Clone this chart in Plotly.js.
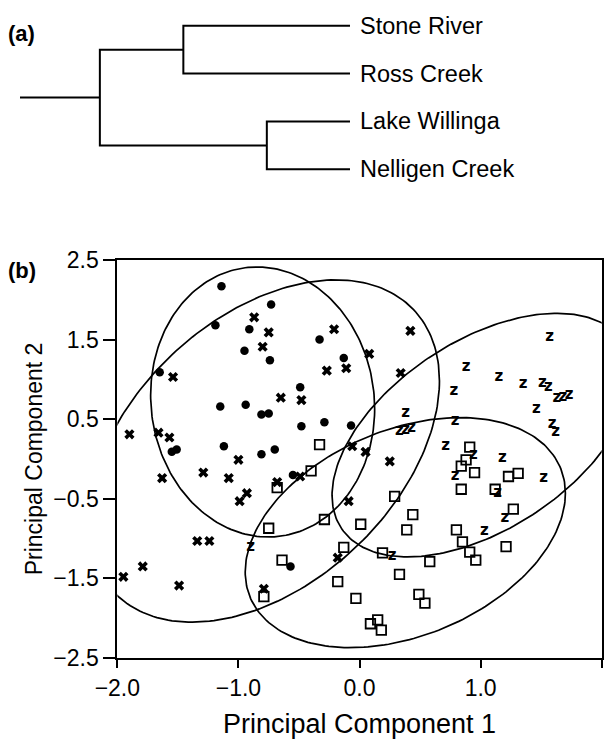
<!DOCTYPE html>
<html><head><meta charset="utf-8">
<script src="https://cdn.plot.ly/plotly-3.0.1.min.js"></script>
<style>body{margin:0;background:#fff}</style>
</head><body><div id="chart" style="width:613px;height:743px"></div>
<script>
// ---- (a) dendrogram ----
const leafNames = ['Stone River','Ross Creek','Lake Willinga','Nelligen Creek'];
const leafPos = [1,2,3,4];
const mergeLeft = [0,2];          // first leaf of each pair
const mergeRight = [1,3];         // second leaf of each pair
const mergeHeight = [0.505,0.252];// linkage distance of each pair
const rootHeight = 0.758;
const stemEnd = 1.0;

// ---- (b) PCA scores ----
const dotsX = [-1.14,-0.73,-1.19,-0.91,-0.95,-0.74,-0.33,-0.13,-1.65,-0.49,-1.15,-0.94,-0.81,-0.75,-0.48,-0.29,-0.07,-1.12,-0.70,-1.55,-1.51,-0.81,-0.55,-0.57];
const dotsY = [2.17,1.94,1.68,1.63,1.36,1.24,1.50,1.27,1.09,0.90,0.66,0.68,0.56,0.57,0.41,0.46,0.42,0.16,0.12,0.09,0.12,0.06,-0.20,-1.35];

const crossX = [-0.87,-0.75,-0.80,-0.21,-0.27,-0.11,-1.54,-0.65,-0.48,-1.90,-1.66,-1.57,-0.06,0.42,0.08,0.34,0.05,-1.00,-1.29,-1.63,-1.08,-0.68,-0.49,-0.93,-0.99,0.25,-0.09,-1.34,-1.24,-1.79,-1.95,-1.49,-0.18,-0.79];
const crossY = [1.78,1.59,1.41,1.63,1.11,1.14,1.03,0.77,0.74,0.31,0.33,0.27,0.16,1.61,1.32,1.08,0.09,-0.01,-0.17,-0.24,-0.24,-0.29,-0.22,-0.43,-0.53,-0.03,-0.53,-1.03,-1.03,-1.35,-1.48,-1.59,-1.24,-1.63];

const squareX = [-0.33,-0.40,-0.68,-0.29,-0.75,-0.13,-0.64,-0.18,-0.79,-0.03,0.91,0.88,0.84,0.95,1.23,1.31,0.84,1.12,1.27,0.29,0.44,0.01,0.39,0.80,0.85,0.91,0.96,1.21,0.19,0.58,0.33,0.49,0.54,0.15,0.09,0.18];
const squareY = [0.18,-0.15,-0.36,-0.76,-0.87,-1.11,-1.27,-1.54,-1.73,-1.75,0.15,-0.01,-0.09,-0.17,-0.22,-0.18,-0.38,-0.38,-0.63,-0.47,-0.70,-0.82,-0.89,-0.89,-1.04,-1.17,-1.27,-1.10,-1.18,-1.29,-1.45,-1.70,-1.81,-2.02,-2.07,-2.15];

const zX = [1.57,0.88,1.15,1.35,1.51,1.56,1.63,1.68,1.73,0.78,1.46,1.59,1.62,0.79,0.71,0.94,1.18,0.38,0.33,0.43,0.38,0.79,1.14,1.52,1.20,1.03,0.27,-0.90];
const zY = [1.53,1.15,1.03,0.94,0.95,0.90,0.76,0.78,0.80,0.85,0.62,0.44,0.33,0.47,0.16,0.05,0.01,0.58,0.35,0.39,0.36,-0.22,-0.43,-0.24,-0.74,-0.91,-1.22,-1.11];

// confidence ellipses: centre, half-extents, correlation
const ellCx  = [-0.80, -0.79, 1.015, 0.378];
const ellCy  = [0.716, 0.10, 0.30, -0.925];
const ellRx  = [0.925, 1.45, 1.242, 1.322];
const ellRy  = [1.696, 2.15, 1.53, 1.445];
const ellRho = [-0.05, 0.41, 0.495, 0.342];

const xTicks = [-2,-1,0,1,2];
const yTicks = [-2.5,-1.5,-0.5,0.5,1.5,2.5];

const FONT = '"Liberation Sans", Arial, Helvetica, sans-serif';
const traces = [];

// dendrogram segments
const dx = [], dy = [];
const mids = [];
for (let k = 0; k < mergeLeft.length; k++) {
  const a = leafPos[mergeLeft[k]], b = leafPos[mergeRight[k]], h = mergeHeight[k];
  dx.push(0, h, h, 0, null);
  dy.push(a, a, b, b, null);
  mids.push([(a + b) / 2, h]);
}
dx.push(mids[0][1], rootHeight, rootHeight, mids[1][1], null);
dy.push(mids[0][0], mids[0][0], mids[1][0], mids[1][0], null);
const rootMid = (mids[0][0] + mids[1][0]) / 2;
dx.push(rootHeight, stemEnd);
dy.push(rootMid, rootMid);
traces.push({type:'scatter', mode:'lines', x:dx, y:dy, xaxis:'x2', yaxis:'y2',
  line:{color:'#000', width:2}, hoverinfo:'skip'});

// ellipses
for (let e = 0; e < ellCx.length; e++) {
  const ex = [], ey = [];
  const s = Math.sqrt(1 - ellRho[e] * ellRho[e]);
  for (let i = 0; i <= 240; i++) {
    const t = 2 * Math.PI * i / 240;
    ex.push(ellCx[e] + ellRx[e] * Math.cos(t));
    ey.push(ellCy[e] + ellRy[e] * (ellRho[e] * Math.cos(t) + s * Math.sin(t)));
  }
  traces.push({type:'scatter', mode:'lines', x:ex, y:ey, line:{color:'#000', width:1.7}, hoverinfo:'skip'});
}

traces.push({type:'scatter', mode:'markers', x:dotsX, y:dotsY,
  marker:{symbol:'circle', size:8.5, color:'#000'}});
traces.push({type:'scatter', mode:'markers', x:crossX, y:crossY,
  marker:{symbol:'x', size:9, color:'#000', line:{width:0}}});
traces.push({type:'scatter', mode:'markers', x:squareX, y:squareY,
  marker:{symbol:'square-open', size:9.5, color:'#000', line:{width:1.8, color:'#000'}}});
traces.push({type:'scatter', mode:'text', x:zX, y:zY, text:zX.map(() => '<b>z</b>'),
  textposition:'middle center', textfont:{family:'"DejaVu Sans", sans-serif', size:15, color:'#000'}});

const annotations = leafNames.map((n, i) => ({
  xref:'x2', yref:'y2', x:-0.0242, y:leafPos[i], text:n, showarrow:false,
  xanchor:'left', yanchor:'middle', font:{family:FONT, size:23.5, color:'#000'}
}));
annotations.push({xref:'paper', yref:'paper', x:6/613, y:1-34/743, text:'<b>(a)</b>', showarrow:false,
  xanchor:'left', yanchor:'middle', font:{family:FONT, size:22, color:'#000'}});
annotations.push({xref:'paper', yref:'paper', x:6/613, y:1-270/743, text:'<b>(b)</b>', showarrow:false,
  xanchor:'left', yanchor:'middle', font:{family:FONT, size:22, color:'#000'}});

const axisCommon = {showgrid:false, zeroline:false, showline:true, linewidth:2, linecolor:'#000',
  mirror:true, ticks:'outside', tickwidth:2, tickcolor:'#000', tickformat:'.1f',
  tickfont:{family:FONT, size:23, color:'#000'}};

const layout = {
  width:613, height:743, margin:{l:0, r:0, t:0, b:0},
  paper_bgcolor:'#fff', plot_bgcolor:'#fff', showlegend:false,
  font:{family:FONT, color:'#000'},
  xaxis:Object.assign({}, axisCommon, {domain:[0.1914,0.9816], range:[-2,2], tickvals:xTicks, ticklen:8,
    anchor:'y', title:{text:'Principal Component 1', font:{family:FONT, size:27, color:'#000'}, standoff:14}}),
  yaxis:Object.assign({}, axisCommon, {domain:[0.1144,0.6501], range:[-2.5,2.5], tickvals:yTicks, ticklen:12,
    anchor:'x', title:{text:'Principal Component 2', font:{family:FONT, size:23, color:'#000'}, standoff:4}}),
  xaxis2:{domain:[0,1], range:[1.0606,-0.797], visible:false, anchor:'y2'},
  yaxis2:{domain:[0.7,1], range:[5.1195,0.4631], visible:false, anchor:'x2'},
  annotations:annotations
};

Plotly.newPlot('chart', traces, layout, {staticPlot:true, displayModeBar:false});
</script></body></html>
